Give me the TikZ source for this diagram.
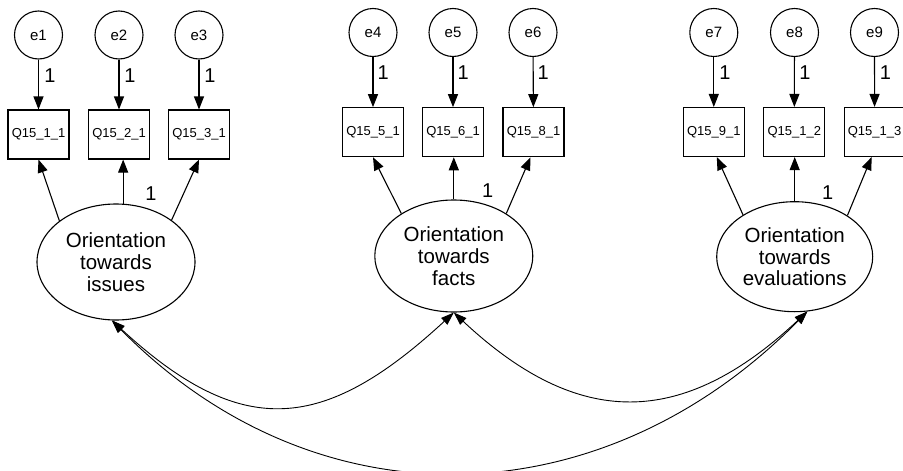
\documentclass[tikz,border=0pt]{standalone}
\usepackage{fontspec}
\setmainfont{Liberation Sans}
\usetikzlibrary{shapes.geometric,arrows.meta}
\begin{document}
\begin{tikzpicture}[x=1pt,y=-1pt,
  line width=1.1pt,
  err/.style={circle, draw, minimum size=48pt, inner sep=0pt, font=\fontsize{15}{18}\selectfont},
  obs/.style={rectangle, draw, minimum width=61pt, minimum height=49pt, inner sep=0pt, font=\fontsize{13}{15}\selectfont},
  lat/.style={ellipse, draw, inner sep=0pt, align=center, font=\fontsize{20.5}{21.7}\selectfont},
  one/.style={font=\fontsize{20}{22}\selectfont, inner sep=0pt},
  load/.style={-{Triangle[length=13pt,width=10pt]}},
  cov/.style={line width=0.9pt, {Triangle[length=13pt,width=9pt]}-{Triangle[length=13pt,width=9pt]}},
]
\path[use as bounding box, fill=white] (0,0) rectangle (903,471);

% group 1
\node[err] (e1) at (38.5,35) {e1};
\node[err] (e2) at (119,35) {e2};
\node[err] (e3) at (199,35) {e3};
\node[obs] (q1) at (38.5,134.5) {Q15\_1\_1};
\node[obs] (q2) at (119,134.5) {Q15\_2\_1};
\node[obs] (q3) at (199,134.5) {Q15\_3\_1};
\node[lat, minimum width=158pt, minimum height=116pt] (f1) at (116,262) {Orientation\\towards\\issues};

% group 2
\node[err] (e4) at (373,32.5) {e4};
\node[err] (e5) at (453,32.5) {e5};
\node[err] (e6) at (533,32.5) {e6};
\node[obs] (q4) at (373,132.2) {Q15\_5\_1};
\node[obs] (q5) at (453,132.2) {Q15\_6\_1};
\node[obs] (q6) at (533.5,132.2) {Q15\_8\_1};
\node[lat, minimum width=158pt, minimum height=112pt] (f2) at (453.8,256) {Orientation\\towards\\facts};

% group 3
\node[err] (e7) at (713.8,32.5) {e7};
\node[err] (e8) at (794.5,32.5) {e8};
\node[err] (e9) at (874.5,32.5) {e9};
\node[obs] (q7) at (713.8,132) {Q15\_9\_1};
\node[obs] (q8) at (794.3,132) {Q15\_1\_2};
\node[obs] (q9) at (874.6,132) {Q15\_1\_3};
\node[lat, minimum width=156pt, minimum height=110pt] (f3) at (794.7,256.7) {Orientation\\towards\\evaluations};

% error paths
\foreach \e/\q in {e1/q1,e2/q2,e3/q3,e4/q4,e5/q5,e6/q6,e7/q7,e8/q8,e9/q9}
  \draw[load] (\e) -- (\q);

% error labels
\node[one] (l1) at (50,76) {1};
\node[one] (l2) at (130,76) {1};
\node[one] (l3) at (210,76) {1};
\node[one] (l4) at (383.3,72.7) {1};
\node[one] (l5) at (463.3,72.7) {1};
\node[one] (l6) at (543.3,72.7) {1};
\node[one] (l7) at (725,72.7) {1};
\node[one] (l8) at (805,72.7) {1};
\node[one] (l9) at (885.5,72.7) {1};

% loadings
\draw[load] (f1.144) -- (q1.south);
\draw[load] (f1.83) -- (f1.83 |- q2.south);
\draw[load] (f1.37) -- (q3.south);
\draw[load] (f2.141.6) -- (q4.south);
\draw[load] (f2.north) -- (f2.north |- q5.south);
\draw[load] (f2.39) -- ([xshift=-3pt]q6.south);
\draw[load] (f3.141.3) -- ([xshift=3pt]q7.south);
\draw[load] (f3.north) -- (f3.north |- q8.south);
\draw[load] (f3.38.7) -- ([xshift=-3pt]q9.south);

\node[one] (m1) at (151,194) {1};
\node[one] (m2) at (487.7,190.7) {1};
\node[one] (m3) at (827.7,192.7) {1};

% covariances
\draw[cov] (f1.-94) .. controls +(130,120) and +(-130,120) .. (f2.south);
\draw[cov] (f2.south) .. controls +(125,117) and +(-125,117) .. (f3.-77);
\draw[cov] (f1.-94) .. controls +(205,208) and +(-205,208) .. (f3.-77);
\end{tikzpicture}
\end{document}
